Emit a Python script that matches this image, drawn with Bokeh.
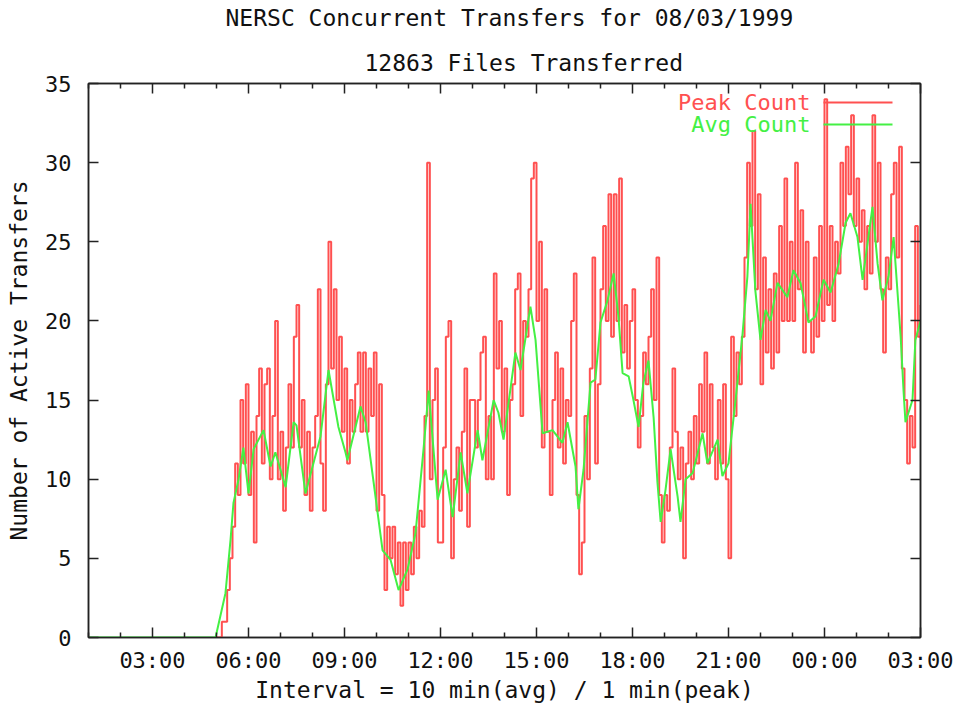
from bokeh.plotting import figure
from bokeh.models import Range1d, FixedTicker, LinearAxis, Label, Arrow, Title
from bokeh.embed import file_html
from bokeh.resources import INLINE

# ---------------- data ----------------
title_text = "NERSC Concurrent Transfers for 08/03/1999"
subtitle_text = "12863 Files Transferred"
x_label_text = "Interval = 10 min(avg) / 1 min(peak)"
y_label_text = "Number of Active Transfers"
legend_labels = ["Peak Count", "Avg Count"]

# x axis: hours counted from 00:00 on 08/03/1999
tick_hours = [3, 6, 9, 12, 15, 18, 21, 24, 27]
tick_labels = ["03:00", "06:00", "09:00", "12:00", "15:00", "18:00", "21:00", "00:00", "03:00"]
minor_hours = [1, 2, 4, 5, 7, 8, 10, 11, 13, 14, 16, 17, 19, 20, 22, 23, 25, 26]
y_ticks = [0, 5, 10, 15, 20, 25, 30, 35]

# average count (10 min)
avg_hours = [1.00, 4.97, 5.28, 5.44, 5.53, 5.69, 5.84, 6.00, 6.16, 6.47, 6.69, 6.84,
             7.16, 7.41, 7.50, 7.78, 8.25, 8.50, 8.81, 9.03, 9.09, 9.50, 9.66, 9.91,
             10.19, 10.44, 10.69, 10.97, 11.22, 11.47, 11.63, 11.91, 12.16, 12.38, 12.63, 12.84,
             13.16, 13.31, 13.66, 13.81, 13.97, 14.34, 14.50, 14.81, 14.97, 15.19, 15.50, 15.81,
             15.97, 16.22, 16.31, 16.47, 16.69, 16.84, 17.00, 17.22, 17.41, 17.56, 17.69, 17.88,
             18.03, 18.19, 18.34, 18.50, 18.66, 18.78, 18.88, 19.03, 19.19, 19.41, 19.50, 19.66,
             19.88, 20.19, 20.34, 20.66, 20.81, 21.00, 21.22, 21.44, 21.59, 21.69, 21.84, 22.00,
             22.16, 22.31, 22.53, 22.84, 23.03, 23.25, 23.50, 23.72, 23.97, 24.19, 24.44, 24.66,
             24.81, 25.03, 25.19, 25.50, 25.66, 25.81, 26.00, 26.16, 26.38, 26.47, 26.53, 26.75,
             26.84, 27.00]
avg_count = [0.0, 0.0, 2.8, 6.2, 8.5, 10.0, 12.0, 9.1, 11.9, 13.1, 10.8, 11.7,
             9.5, 13.6, 13.4, 9.1, 12.7, 16.9, 13.3, 11.7, 11.2, 14.6, 13.6, 9.8,
             5.5, 4.9, 3.0, 4.3, 6.6, 11.9, 15.6, 8.7, 10.6, 7.6, 11.7, 9.1,
             13.1, 11.2, 15.0, 14.2, 12.5, 18.0, 16.9, 20.9, 18.8, 12.9, 13.1, 12.3,
             13.6, 10.8, 8.1, 10.6, 16.1, 16.3, 19.9, 21.3, 23.0, 20.3, 16.7, 16.5,
             15.0, 13.3, 16.1, 17.5, 13.9, 9.8, 7.3, 9.3, 11.9, 8.9, 7.3, 10.0,
             10.4, 12.9, 11.0, 12.5, 10.2, 11.0, 15.0, 19.2, 22.8, 27.4, 21.9, 18.8,
             20.7, 20.0, 22.4, 21.5, 23.2, 22.4, 19.9, 20.3, 22.6, 21.8, 23.6, 26.2,
             26.8, 25.3, 22.6, 27.2, 23.6, 21.3, 22.8, 25.3, 19.0, 15.6, 13.6, 15.0,
             18.8, 20.0]

# peak count, one value per 5 minutes from 05:00 (one row per hour)
peak_start_hour = 5.0
peak_step_minutes = 5
peak_count = [
    0, 0, 1, 1, 3, 5, 7, 11, 9, 15, 11, 16,          # 05
    9, 13, 6, 14, 17, 11, 16, 17, 10, 14, 20, 10,    # 06
    13, 8, 12, 16, 12, 19, 21, 12, 15, 9, 13, 8,     # 07
    12, 14, 22, 11, 8, 16, 25, 17, 22, 15, 19, 13,   # 08
    17, 11, 15, 13, 16, 18, 13, 18, 13, 17, 14, 18,  # 09
    8, 16, 9, 3, 7, 5, 7, 4, 6, 2, 6, 3,             # 10
    6, 4, 7, 5, 8, 7, 14, 30, 10, 15, 17, 6,         # 11
    6, 12, 19, 20, 5, 10, 12, 8, 13, 17, 7, 15,      # 12
    15, 12, 15, 18, 19, 10, 14, 10, 23, 17, 20, 13,  # 13
    17, 9, 15, 16, 22, 23, 14, 20, 19, 22, 29, 30,   # 14
    20, 25, 12, 22, 13, 9, 15, 18, 12, 17, 11, 15,   # 15
    14, 20, 23, 9, 4, 6, 14, 10, 17, 24, 11, 16,     # 16
    22, 26, 20, 28, 19, 28, 20, 29, 18, 21, 17, 20,  # 17
    22, 15, 12, 14, 18, 16, 19, 22, 15, 24, 9, 6,    # 18
    9, 8, 12, 17, 13, 10, 12, 5, 11, 13, 10, 14,     # 19
    11, 16, 13, 18, 11, 16, 12, 10, 15, 11, 16, 10,  # 20
    5, 19, 14, 18, 16, 19, 24, 30, 26, 32, 22, 28,   # 21
    16, 24, 18, 22, 17, 23, 18, 26, 20, 29, 20, 25,  # 22
    20, 30, 22, 27, 18, 25, 20, 18, 24, 19, 26, 20,  # 23
    34, 21, 26, 20, 25, 23, 30, 26, 31, 28, 33, 26,  # 00
    29, 25, 27, 22, 26, 23, 33, 25, 30, 22, 18, 24,  # 01
    22, 28, 30, 24, 31, 17, 15, 11, 14, 12, 26, 19,  # 02
    21,                                              # 03:00
]
peak_hours = [peak_start_hour + i * peak_step_minutes / 60.0 for i in range(len(peak_count))]

# ---------------- style ----------------
FONT = "DejaVu Sans Mono"
FS = "22px"
FS_T = "23px"
RED = "#ff5050"
GREEN = "#44f044"
INK = "#222222"
TXT = "#111111"

p = figure(width=957, height=705, output_backend="svg", toolbar_location=None,
           x_range=Range1d(1, 27), y_range=Range1d(0, 35),
           min_border_left=88, min_border_right=37, min_border_top=83, min_border_bottom=67,
           background_fill_color="white", border_fill_color="white")
p.xgrid.grid_line_color = None
p.ygrid.grid_line_color = None
p.outline_line_color = INK
p.outline_line_width = 1.5

xt = FixedTicker(ticks=tick_hours, minor_ticks=minor_hours)
yt = FixedTicker(ticks=y_ticks, minor_ticks=[])
overrides = {h: lab for h, lab in zip(tick_hours, tick_labels)}


def style_axis(ax, show_labels):
    ax.axis_line_color = INK
    ax.axis_line_width = 1.5
    ax.major_tick_line_color = INK
    ax.minor_tick_line_color = INK
    ax.major_tick_line_width = 1.5
    ax.minor_tick_line_width = 1.5
    ax.major_tick_in = 10
    ax.major_tick_out = 0
    ax.minor_tick_in = 5
    ax.minor_tick_out = 0
    ax.major_label_text_font = FONT
    ax.major_label_text_font_size = FS if show_labels else "0px"
    ax.major_label_text_color = TXT if show_labels else None
    ax.axis_label_text_font = FONT
    ax.axis_label_text_font_size = FS_T
    ax.axis_label_text_font_style = "normal"
    ax.axis_label_text_color = TXT


xa = p.xaxis[0]
xa.ticker = xt
xa.major_label_overrides = overrides
xa.major_label_standoff = 10
style_axis(xa, True)
xa.axis_label = x_label_text
xa.axis_label_standoff = 1

ya = p.yaxis[0]
ya.ticker = yt
ya.major_label_standoff = 17
style_axis(ya, True)
ya.axis_label = y_label_text
ya.axis_label_standoff = 10

# mirrored tick marks on top and right (gnuplot border style)
top_ax = LinearAxis(ticker=xt, major_label_standoff=0)
style_axis(top_ax, False)
p.add_layout(top_ax, "above")
right_ax = LinearAxis(ticker=yt, major_label_standoff=0)
style_axis(right_ax, False)
p.add_layout(right_ax, "right")

# titles, stacked outward from the frame: subtitle, a blank band, main title
p.add_layout(Title(text=subtitle_text, align="left", offset=276, standoff=16,
                   text_font=FONT, text_font_size=FS_T, text_font_style="normal",
                   text_color=TXT), "above")
spacer = LinearAxis(ticker=FixedTicker(ticks=[14], minor_ticks=[]),
                    axis_line_color=None, major_tick_line_color="white",
                    minor_tick_line_color=None, major_label_text_font_size="0px",
                    major_label_text_color=None, major_label_standoff=0,
                    major_tick_in=0, major_tick_out=9, minor_tick_in=0, minor_tick_out=0)
p.add_layout(spacer, "above")
p.add_layout(Title(text=title_text, align="left", offset=137, standoff=0,
                   text_font=FONT, text_font_size=FS_T, text_font_style="normal",
                   text_color=TXT), "above")

# data
p.step(peak_hours, peak_count, mode="after", line_color=RED, line_width=2)
p.line(avg_hours, avg_count, line_color=GREEN, line_width=2)


def lab(text, x, y, color):
    p.add_layout(Label(x=x, y=y, x_units="screen", y_units="screen", text=text,
                       text_font=FONT, text_font_size=FS, text_color=color,
                       text_align="right", text_baseline="middle"))


# gnuplot-style key: text right-aligned, then a line sample
lab(legend_labels[0], 722, 535, RED)
lab(legend_labels[1], 722, 513, GREEN)
p.add_layout(Arrow(end=None, x_start=735, y_start=535, x_end=804, y_end=535,
                   start_units="screen", end_units="screen", line_color=RED, line_width=2))
p.add_layout(Arrow(end=None, x_start=735, y_start=513, x_end=804, y_end=513,
                   start_units="screen", end_units="screen", line_color=GREEN, line_width=2))

open("out.html", "w").write(file_html(p, INLINE))
